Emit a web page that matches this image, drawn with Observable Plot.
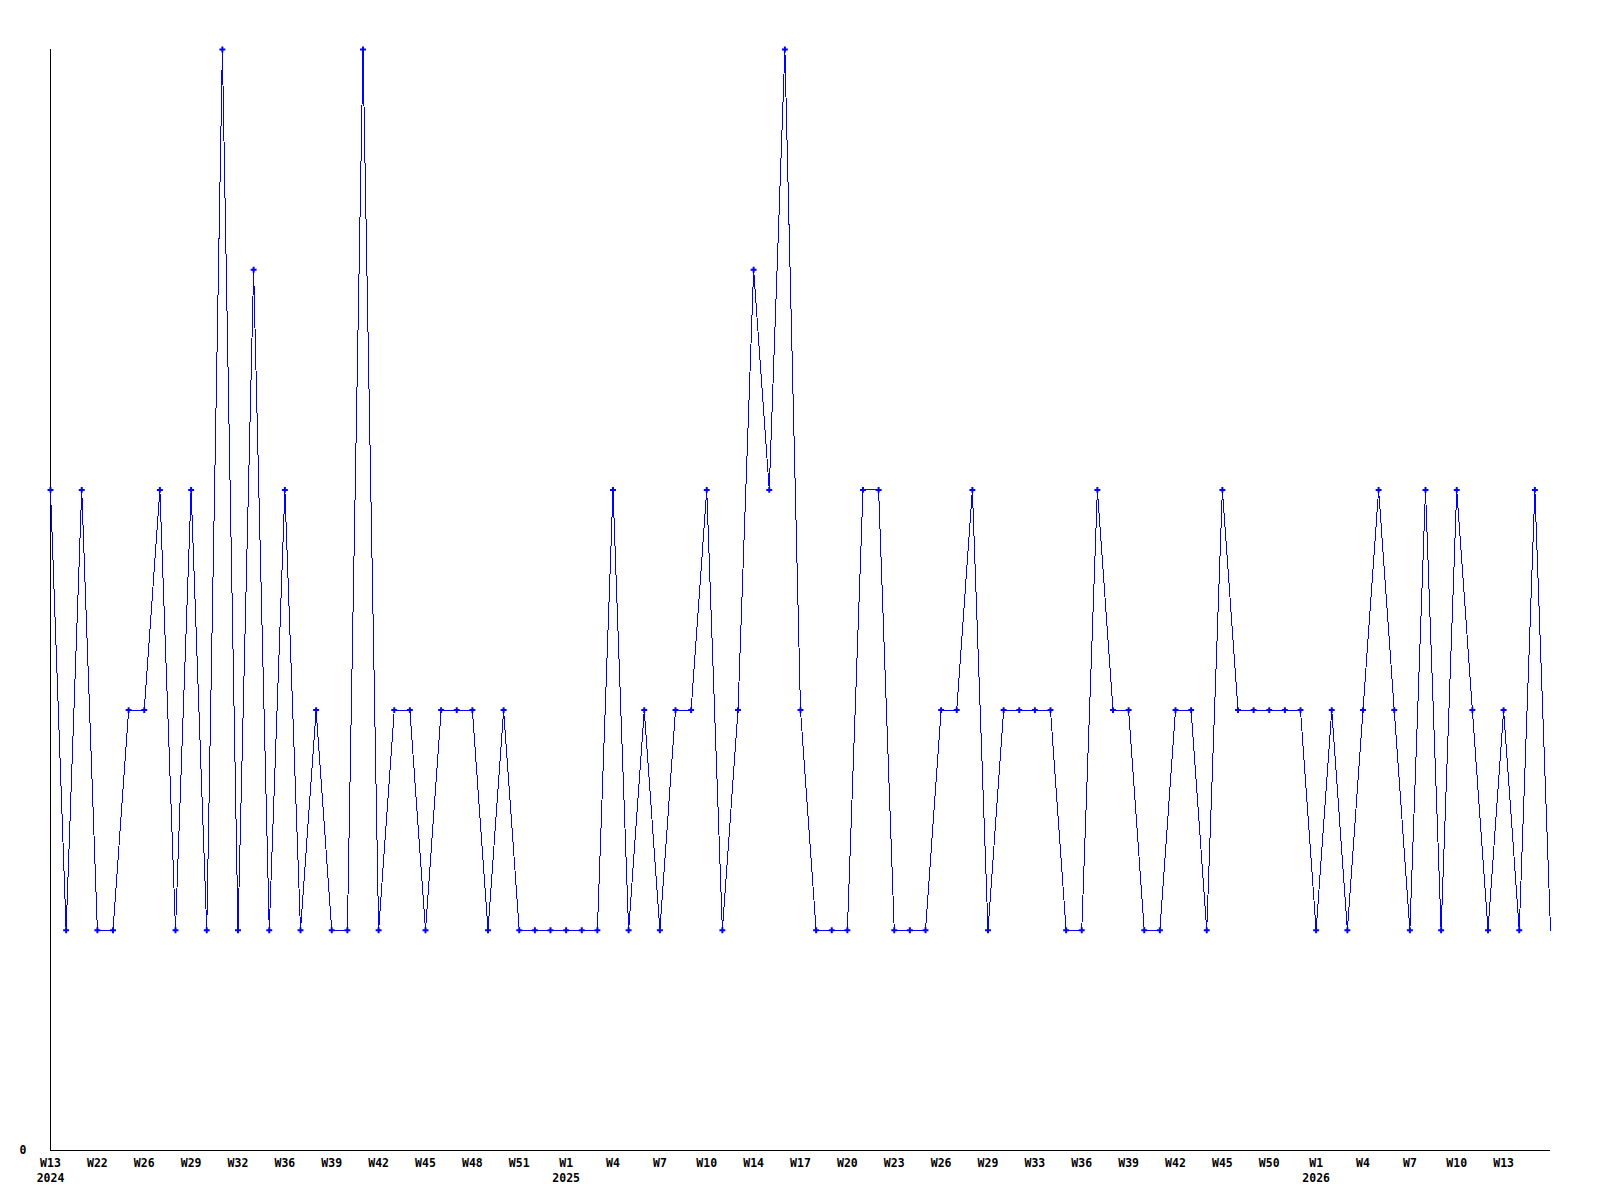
<!DOCTYPE html>
<html>
<head>
<meta charset="utf-8">
<script src="https://cdn.jsdelivr.net/npm/d3@7"></script>
<script src="https://cdn.jsdelivr.net/npm/@observablehq/plot@0.6"></script>
<style>
  html, body { margin: 0; padding: 0; background: #ffffff; }
  #chart svg { display: block; }
</style>
</head>
<body>
<div id="chart"></div>
<script>
// Weekly values, one per point (index 0 .. 96)
const values = [
  3,1,3,1,1,2,2,3,1,3,
  1,5,1,4,1,3,1,2,1,1,
  5,1,2,2,1,2,2,2,1,2,
  1,1,1,1,1,1,3,1,2,1,
  2,2,3,1,2,4,3,5,2,1,
  1,1,3,3,1,1,1,2,2,3,
  1,2,2,2,2,1,1,3,2,2,
  1,1,2,2,1,3,2,2,2,2,
  2,1,2,1,2,3,2,1,3,1,
  3,2,1,2,1,3,1
];

// Week tick labels, shown on every third point
const weekTicks = [
  "W13","W22","W26","W29","W32","W36","W39","W42","W45","W48","W51",
  "W1","W4","W7","W10","W14","W17","W20","W23","W26","W29","W33",
  "W36","W39","W42","W45","W50","W1","W4","W7","W10","W13"
];

// Year labels and the point index they sit under
const yearIdx = [0, 33, 81];
const yearLabels = ["2024", "2025", "2026"];

const data = values.map((v, i) => ({i, v}));
const tickIdx = weekTicks.map((_, k) => k * 3);
const years = yearIdx.map((i, k) => ({i, label: yearLabels[k]}));

const chart = Plot.plot({
  width: 1600,
  height: 1200,
  marginLeft: 50,
  marginRight: 50,
  marginTop: 49,
  marginBottom: 50,
  x: {type: "linear", domain: [0, values.length - 1]},
  y: {domain: [0, 5]},
  style: {
    fontFamily: "'DejaVu Sans Mono', monospace",
    fontWeight: "bold",
    fontSize: "11.5px",
    background: "#ffffff",
    color: "#000000"
  },
  marks: [
    Plot.ruleY([0], {stroke: "#000000", strokeWidth: 1, shapeRendering: "crispEdges"}),
    Plot.ruleX([0], {stroke: "#000000", strokeWidth: 1, shapeRendering: "crispEdges"}),
    Plot.line(data, {x: "i", y: "v", stroke: "#0000ff", strokeWidth: 1, shapeRendering: "crispEdges"}),
    Plot.dot(data, {
      x: "i", y: "v",
      filter: d => d.i < values.length - 1,
      symbol: "cross", r: 2.5, fill: "#0000ff", stroke: "none"
    }),
    Plot.axisY({
      ticks: [0], tickFormat: d => String(d), tickSize: 0, tickPadding: 24,
      label: null, fontWeight: "bold"
    }),
    Plot.axisX({
      ticks: tickIdx,
      tickFormat: i => weekTicks[i / 3],
      tickSize: 0, tickPadding: 8,
      label: null, fontWeight: "bold"
    }),
    Plot.text(years, {
      x: "i", y: () => 0, text: "label",
      lineAnchor: "top", dy: 23, textAnchor: "middle",
      fill: "#000000", fontWeight: "bold"
    })
  ]
});

document.getElementById("chart").appendChild(chart);
</script>
</body>
</html>
